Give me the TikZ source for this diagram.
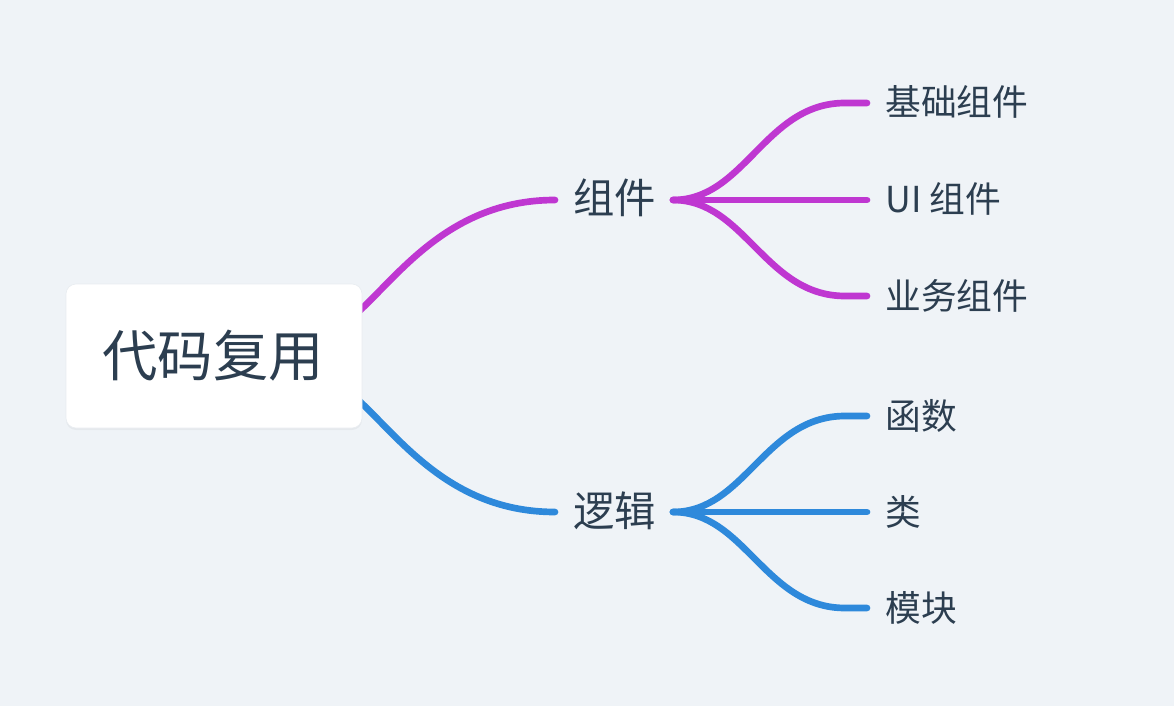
\documentclass[tikz,border=0pt]{standalone}
\usepackage{fontspec}
\setmainfont{Noto Sans CJK SC}
\usetikzlibrary{calc,shadows}
\definecolor{bg}{HTML}{EFF3F7}
\definecolor{txt}{HTML}{2C3E50}
\definecolor{mag}{HTML}{BF37D1}
\definecolor{blu}{HTML}{2E89DB}
\definecolor{bordr}{HTML}{E9EDF1}
\tikzset{
  link/.style={line width=5pt, line cap=round},
  maglink/.style={link, draw=mag},
  blulink/.style={link, draw=blu},
  rootbox/.style={fill=white, draw=bordr, line width=0.5pt, rounded corners=7.5pt,
    minimum width=222pt, minimum height=108pt, inner sep=0pt, text=txt,
    drop shadow={shadow xshift=0pt, shadow yshift=-1.5pt, opacity=0.04, fill=black}},
  roottext/.style={inner sep=0pt, anchor=base, text=txt, font=\fontsize{41.5pt}{45pt}\selectfont},
  midtext/.style={anchor=base west, inner sep=0pt, text=txt, font=\fontsize{31pt}{34pt}\selectfont},
  leaftext/.style={anchor=base west, inner sep=0pt, text=txt, font=\fontsize{26.8pt}{30pt}\selectfont},
}
\begin{document}
\begin{tikzpicture}[x=0.75pt, y=-0.75pt]
\fill[bg] (0,0) rectangle (1174,706);
\useasboundingbox (0,0) rectangle (1174,706);
% fork points and line ends
\coordinate (zjL) at (555,200);
\coordinate (ljL) at (555,512);
\coordinate (zjR) at (673,200);
\coordinate (ljR) at (673,512);
\coordinate (e1) at (867,103);
\coordinate (e2) at (867,200);
\coordinate (e3) at (867,296);
\coordinate (e4) at (867,416);
\coordinate (e5) at (867,512);
\coordinate (e6) at (867,608);
% root connectors (drawn under the box)
\coordinate (rs1) at (345,323);
\coordinate (rs2) at (345,389);
\draw[maglink] (rs1) .. controls (390,290) and (440,200) .. (zjL);
\draw[blulink] (rs2) .. controls (390,422) and (440,512) .. (ljL);
% root
\node[rootbox] (root) at (214,356) {};
\node[roottext] (rootlabel) at (213,376) {代码复用};
% mid level
\node[midtext] (zj) at (573,214) {组件};
\node[midtext] (lj) at (573,526) {逻辑};
% leaves
\node[leaftext] (l1) at (885,116) {基础组件};
\node[leaftext] (l2) at (885,213) {UI 组件};
\node[leaftext] (l3) at (885,309) {业务组件};
\node[leaftext] (l4) at (885,429) {函数};
\node[leaftext] (l5) at (885,525) {类};
\node[leaftext] (l6) at (885,621) {模块};
% leaf connectors
\draw[maglink] (zjR) .. controls (745,200) and (765,103) .. (845,103) -- (e1);
\draw[maglink] (zjR) -- (e2);
\draw[maglink] (zjR) .. controls (745,200) and (765,296) .. (845,296) -- (e3);
\draw[blulink] (ljR) .. controls (745,512) and (765,416) .. (845,416) -- (e4);
\draw[blulink] (ljR) -- (e5);
\draw[blulink] (ljR) .. controls (745,512) and (765,608) .. (845,608) -- (e6);
\end{tikzpicture}
\end{document}
